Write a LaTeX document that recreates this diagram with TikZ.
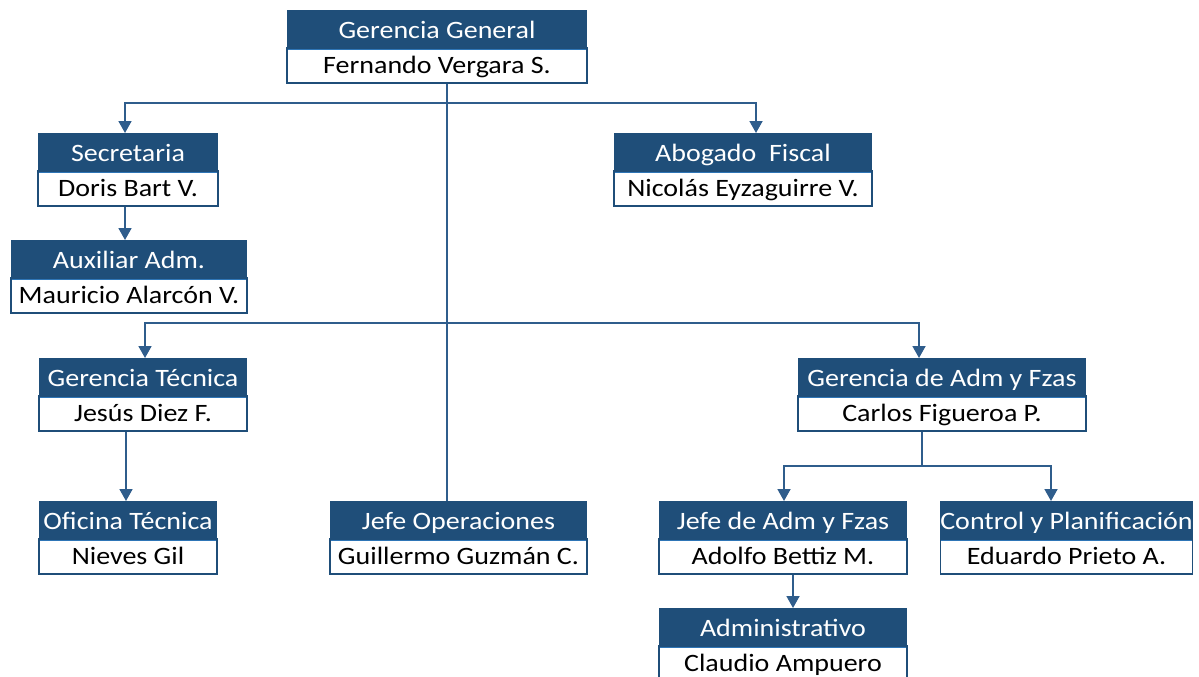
\documentclass[tikz,border=0pt]{standalone}
\usepackage{fontspec}
\setmainfont{Carlito}[FakeStretch=1.12]
\usetikzlibrary{positioning,arrows.meta}

\definecolor{boxblue}{HTML}{1F4E79}
\definecolor{sepblue}{HTML}{2E75B6}
\definecolor{lineblue}{HTML}{2F5D8C}

\tikzset{
  head/.style={fill=boxblue, text=white, inner sep=0pt, minimum height=37pt,
    text height=21pt, text depth=2pt, anchor=north,
    font=\fontsize{25}{28}\selectfont},
  person/.style={fill=white, draw=boxblue, line width=1.6pt, inner sep=0pt,
    minimum height=35pt, text height=18pt, text depth=3pt,
    font=\fontsize{25}{28}\selectfont,
    path picture={\draw[sepblue, line width=4pt]
      (path picture bounding box.north west) -- (path picture bounding box.north east);}},
  link/.style={draw=lineblue, line width=1.8pt},
  arrow/.style={link, -{Triangle[width=13pt,length=12pt]}}
}

\begin{document}
\begin{tikzpicture}[x=1pt,y=-1pt]
\useasboundingbox (0,0) rectangle (1199,677);
% boxes
\node[head, minimum width=300pt] (gg) at (437,10) {Gerencia General};
\node[person, minimum width=300pt, below=0pt of gg] (ggp) {Fernando Vergara S.};
\node[head, minimum width=180pt] (sec) at (128,133) {Secretaria};
\node[person, minimum width=180pt, below=0pt of sec] (secp) {Doris Bart V.};
\node[head, minimum width=236pt] (aux) at (129,240) {Auxiliar Adm.};
\node[person, minimum width=236pt, below=0pt of aux] (auxp) {Mauricio Alarcón V.};
\node[head, minimum width=258pt] (abo) at (743,133) {Abogado\ \ Fiscal};
\node[person, minimum width=258pt, below=0pt of abo] (abop) {Nicolás Eyzaguirre V.};
\node[head, minimum width=208pt] (gt) at (143,358) {Gerencia Técnica};
\node[person, minimum width=208pt, below=0pt of gt] (gtp) {Jesús Diez F.};
\node[head, minimum width=288pt] (gaf) at (942,358) {Gerencia de Adm y Fzas};
\node[person, minimum width=288pt, below=0pt of gaf] (gafp) {Carlos Figueroa P.};
\node[head, minimum width=178pt] (ofi) at (128,501) {Oficina Técnica};
\node[person, minimum width=178pt, below=0pt of ofi] (ofip) {Nieves Gil};
\node[head, minimum width=257pt] (jop) at (458.5,501) {Jefe Operaciones};
\node[person, minimum width=257pt, below=0pt of jop] (jopp) {Guillermo Guzmán C.};
\node[head, minimum width=248pt] (jaf) at (783,501) {Jefe de Adm y Fzas};
\node[person, minimum width=248pt, below=0pt of jaf] (jafp) {Adolfo Bettiz M.};
\node[head, minimum width=252pt] (ctl) at (1066.5,501) {Control y Planificación};
\node[person, minimum width=252pt, below=0pt of ctl] (ctlp) {Eduardo Prieto A.};
\node[head, minimum width=248pt] (adm) at (783,608) {Administrativo};
\node[person, minimum width=248pt, below=0pt of adm] (admp) {Claudio Ampuero};
% junctions
\coordinate (j1) at (447,103);
\coordinate (j2) at (447,323);
\coordinate (j3) at (922,466);
% connectors
\draw[link] (ggp.south -| j1) -- (jop.north -| j1);
\draw[arrow] (j1) -| (sec.north -| 125,0);
\draw[arrow] (j1) -| (abo.north -| 756,0);
\draw[arrow] (j2) -| (gt.north -| 145,0);
\draw[arrow] (j2) -| (gaf.north -| 919,0);
\draw[arrow] (secp.south -| 125,0) -- (aux.north -| 125,0);
\draw[arrow] (gtp.south -| 126,0) -- (ofi.north -| 126,0);
\draw[link] (gafp.south -| j3) -- (j3);
\draw[arrow] (j3) -| (jaf.north -| 784,0);
\draw[arrow] (j3) -| (ctl.north -| 1051,0);
\draw[arrow] (jafp.south -| 793,0) -- (adm.north -| 793,0);
\end{tikzpicture}
\end{document}
